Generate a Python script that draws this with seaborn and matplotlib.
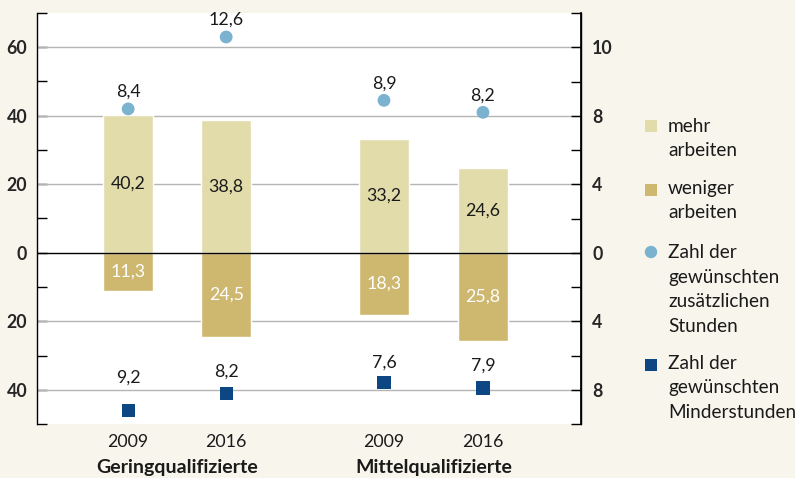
import matplotlib
matplotlib.use("Agg")
import matplotlib.pyplot as plt
from matplotlib.ticker import FixedLocator
import seaborn as sns

# --- data ---
years = ["2009", "2016", "2009", "2016"]
groups = ["Geringqualifizierte", "Mittelqualifizierte"]
mehr_arbeiten = [40.2, 38.8, 33.2, 24.6]
weniger_arbeiten = [11.3, 24.5, 18.3, 25.8]
zusaetzliche_std = [8.4, 12.6, 8.9, 8.2]
minder_std = [9.2, 8.2, 7.6, 7.9]
left_ticks = [-40, -20, 0, 20, 40, 60]
left_labels = ["40", "20", "0", "20", "40", "60"]
right_labels = ["8", "4", "0", "4", "8", "10"]
legend_labels = ["mehr\narbeiten", "weniger\narbeiten",
                 "Zahl der\ngewünschten\nzusätzlichen\nStunden",
                 "Zahl der\ngewünschten\nMinderstunden"]
HOURS_SCALE = 5  # hours are drawn on the percent axis times 5

# --- style ---
BG = "#f8f5ec"
C_MEHR = "#e2dcab"
C_WENIGER = "#ceb76e"
C_CIRCLE = "#7ab2cf"
C_SQUARE = "#0c4784"
TXT = "#1a1a1a"
FONT = ["Lato", "DejaVu Sans"]
FS = 12.8

sns.set_theme(style="white")
plt.rcParams["font.family"] = FONT

W, H = 795, 478
fig = plt.figure(figsize=(W / 100, H / 100), dpi=100, facecolor=BG)
ax = fig.add_axes([37 / W, (H - 424) / H, (581 - 37) / W, (424 - 13) / H])
ax.set_facecolor("white")

pos = [0, 1, 2.61, 3.62]
sq_label_dy = [33, 22, 20, 22]


def fmt(v):
    return f"{v:.1f}".replace(".", ",")


sns.barplot(x=pos, y=mehr_arbeiten, native_scale=True, width=0.51, color=C_MEHR,
            saturation=1, errorbar=None, ax=ax, zorder=2)
sns.barplot(x=pos, y=[-v for v in weniger_arbeiten], native_scale=True, width=0.51,
            color=C_WENIGER, saturation=1, errorbar=None, ax=ax, zorder=2)
sns.scatterplot(x=pos, y=[v * HOURS_SCALE for v in zusaetzliche_std], marker="o", s=85,
                color=C_CIRCLE, edgecolor="none", ax=ax, zorder=4)
sns.scatterplot(x=pos, y=[-v * HOURS_SCALE for v in minder_std], marker="s", s=90,
                color=C_SQUARE, edgecolor="none", ax=ax, zorder=4)

for x, m, w in zip(pos, mehr_arbeiten, weniger_arbeiten):
    ax.text(x, m / 2, fmt(m), ha="center", va="center", fontsize=FS, color=TXT, zorder=5)
    ax.text(x, -w / 2, fmt(w), ha="center", va="center", fontsize=FS, color="white", zorder=5)
for x, v in zip(pos, zusaetzliche_std):
    ax.annotate(fmt(v), (x, v * HOURS_SCALE), xytext=(0, 17), textcoords="offset pixels",
                ha="center", va="center", fontsize=FS, color=TXT, zorder=5)
for x, v, dy in zip(pos, minder_std, sq_label_dy):
    ax.annotate(fmt(v), (x, -v * HOURS_SCALE), xytext=(0, dy), textcoords="offset pixels",
                ha="center", va="center", fontsize=FS, color=TXT, zorder=5)

ax.set_xlim(-0.93, 4.62)
ax.set_ylim(-50, 70)

# grid
for t in left_ticks:
    if t == 0:
        ax.axhline(0, color="black", lw=1.0, zorder=3)
    else:
        ax.axhline(t, color="#b5b5b5", lw=1.0, zorder=1)

for side in ["top", "bottom"]:
    ax.spines[side].set_visible(False)
for side in ["left", "right"]:
    ax.spines[side].set_visible(True)
    ax.spines[side].set_color("black")
    ax.spines[side].set_linewidth(1.0)

minor = [-50, -30, -10, 10, 30, 50, 70]
ax.yaxis.set_major_locator(FixedLocator(left_ticks))
ax.yaxis.set_minor_locator(FixedLocator(minor))
ax.set_yticklabels(left_labels, fontweight="bold", fontsize=FS)
ax.tick_params(axis="y", which="both", direction="in", length=7, width=1, color="black",
               left=True, pad=7)

ax2 = ax.twinx()
ax2.set_ylim(ax.get_ylim())
ax2.yaxis.set_major_locator(FixedLocator(left_ticks))
ax2.yaxis.set_minor_locator(FixedLocator(minor))
ax2.set_yticklabels(right_labels, fontweight="bold", fontsize=FS)
ax2.tick_params(axis="y", which="both", direction="in", length=7, width=1, color="black",
                right=True, pad=8)
for side in ["top", "bottom", "left"]:
    ax2.spines[side].set_visible(False)
ax2.spines["right"].set_color("black")
ax2.grid(False)

ax.set_xticks(pos)
ax.set_xticklabels(years, fontsize=FS, color=TXT)
ax.tick_params(axis="x", length=0, pad=7)
ax.set_xlabel("")
ax.set_ylabel("")
ax.grid(False)

for i, g in enumerate(groups):
    gx = (pos[2 * i] + pos[2 * i + 1]) / 2
    ax.text(gx, -43 / (424 - 13), g, transform=ax.get_xaxis_transform(), ha="center",
            va="center", fontsize=14, fontweight="bold", color=TXT)

# legend (drawn in a pixel-like frame to the right of the chart)
lax = fig.add_axes([0, 0, 1, 1], facecolor="none")
lax.set_xlim(0, W)
lax.set_ylim(H, 0)
lax.axis("off")
handles = [("s", C_MEHR, 126, 132), ("s", C_WENIGER, 190, 194),
           ("o", C_CIRCLE, 252, 258), ("s", C_SQUARE, 365, 369)]
LINE_H = 24.5
for (mk, col, ym, yb), lab in zip(handles, legend_labels):
    lax.scatter([651], [ym], marker=mk, s=75 if mk == "s" else 80, color=col, edgecolor="none")
    for j, line in enumerate(lab.split("\n")):
        lax.text(668, yb + j * LINE_H, line, ha="left", va="baseline", fontsize=13.7, color=TXT)

fig.savefig("out.png", dpi=100, facecolor=BG)
